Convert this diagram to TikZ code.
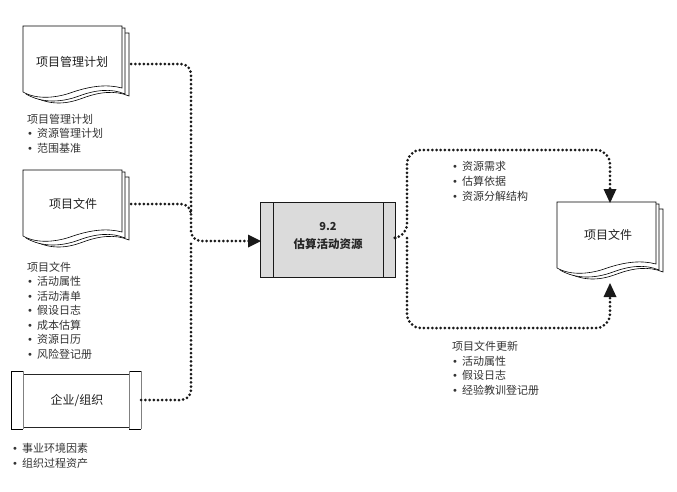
\documentclass[tikz,border=0pt]{standalone}
\usepackage{fontspec}
\setmainfont{Noto Sans CJK SC}
\newfontfamily\bulletfont{DejaVu Sans}
\newcommand{\bl}{\makebox[10pt][l]{\bulletfont\fontsize{10}{10}\selectfont •}}
\tikzset{
  x=1pt,y=-1pt,
  sheet/.style={draw=black,line width=0.6pt,fill=white},
  boxlabel/.style={font=\fontsize{12}{14}\selectfont,text=black!88,inner sep=0pt},
  listlabel/.style={font=\fontsize{11}{15}\selectfont,text=black!80,inner sep=0pt,align=left,anchor=north west},
  docanchor/.style={inner sep=0pt,minimum width=106pt,minimum height=72pt},
  flow/.style={line width=3pt,line cap=round,dash pattern=on 0pt off 4.2pt,black!90,rounded corners=10pt},
  tipa/.style={fill=black!90,draw=none},
  pics/docstack/.style={code={
    \draw[sheet] (9,7) -- (106,7) -- (106,70) .. controls (92,64) and (76,66) .. (60,72) .. controls (44,78) and (28,80) .. (9,70) -- cycle;
    \draw[sheet] (5,2) -- (102,2) -- (102,68) .. controls (88,62) and (72,64) .. (56,70) .. controls (40,76) and (20,78) .. (3,68) -- cycle;
    \draw[sheet] (0,0) -- (99,0) -- (99,62) .. controls (84,58) and (68,60) .. (50,66) .. controls (34,72) and (14,74) .. (0,66) -- cycle;
  }}
}
\begin{document}
\begin{tikzpicture}
\useasboundingbox (0,0) rectangle (677,491);

% document stacks
\pic at (23,26) {docstack};
\pic at (23,170) {docstack};
\pic at (557,202) {docstack};
\node[docanchor] (planbox) at (78,64) {};
\node[docanchor] (filebox) at (78,204) {};
\node[docanchor] (outbox) at (610,238) {};
\node[boxlabel] (plantext) at (72,62) {项目管理计划};
\node[boxlabel] (filetext) at (73,204) {项目文件};
\node[boxlabel] (outtext) at (608,235) {项目文件};

% enterprise
\draw[line width=0.9pt,black!85] (23,374) -- (129,374) (23,427) -- (129,427);
\draw[line width=0.9pt,black] (23,371) -- (11,371) -- (11,429) -- (23,429);
\draw[line width=0.9pt,black] (129,371) -- (141,371) (129,429) -- (141,429);
\draw[line width=1pt,black!50] (23,371) -- (23,429) (129,371) -- (129,429) (141,371) -- (141,429);
\node[inner sep=0pt,minimum width=130pt,minimum height=58pt] (ent) at (76,400) {};
\node[boxlabel] (enttext) at (77,400) {企业/组织};

% process
\node[draw=black!90,line width=0.9pt,fill=black!14,minimum width=135pt,minimum height=75pt,inner sep=0pt] (proc) at (327.5,239.5) {};
\draw[line width=0.9pt,black!90] (273,202) -- (273,277) (383,202) -- (383,277);
\node[font=\fontsize{11}{14}\selectfont\bfseries,text=black!85,inner sep=0pt] (procnum) at (328,226) {9.2};
\node[font=\fontsize{11.5}{14}\selectfont\bfseries,text=black!85,inner sep=0pt] (proctext) at (328,244) {估算活动资源};

% connectors
\coordinate (join) at (191,241);
\coordinate (split) at (407,238);
\draw[flow] (planbox.east) -- (planbox.east -| join) -- (join) -- (proc.west |- join);
\draw[flow] (filebox.east) -- (filebox.east -| join) -- ++(0,10);
\draw[flow] (ent.east) -- (ent.east -| join) -- ([yshift=-1pt]join);
\fill[tipa] (248,234.5) -- (261,241) -- (248,247.5) -- cycle;

\draw[flow,rounded corners=14pt] (proc.east |- split) -- (split) -- (407,150) -- (610,150) -- (610,189);
\draw[flow,rounded corners=14pt] (split) -- (407,328) -- (610,328) -- (610,296);
\fill[tipa] (603.5,189) -- (610,203) -- (616.5,189) -- cycle;
\fill[tipa] (603.5,297) -- (610,283) -- (616.5,297) -- cycle;

% lists
\node[listlabel] (l1) at (27,114) {项目管理计划\\[-0.5pt]\bl 资源管理计划\\[-0.5pt]\bl 范围基准};
\node[listlabel] (l2) at (27,261.5) {项目文件\\[-0.5pt]\bl 活动属性\\[-0.5pt]\bl 活动清单\\[-0.5pt]\bl 假设日志\\[-0.5pt]\bl 成本估算\\[-0.5pt]\bl 资源日历\\[-0.5pt]\bl 风险登记册};
\node[listlabel] (l3) at (12,443) {\bl 事业环境因素\\[-0.5pt]\bl 组织过程资产};
\node[listlabel] (l4) at (452,161) {\bl 资源需求\\\bl 估算依据\\\bl 资源分解结构};
\node[listlabel] (l5) at (452,341) {项目文件更新\\[-0.5pt]\bl 活动属性\\[-0.5pt]\bl 假设日志\\[-0.5pt]\bl 经验教训登记册};
\end{tikzpicture}
\end{document}
